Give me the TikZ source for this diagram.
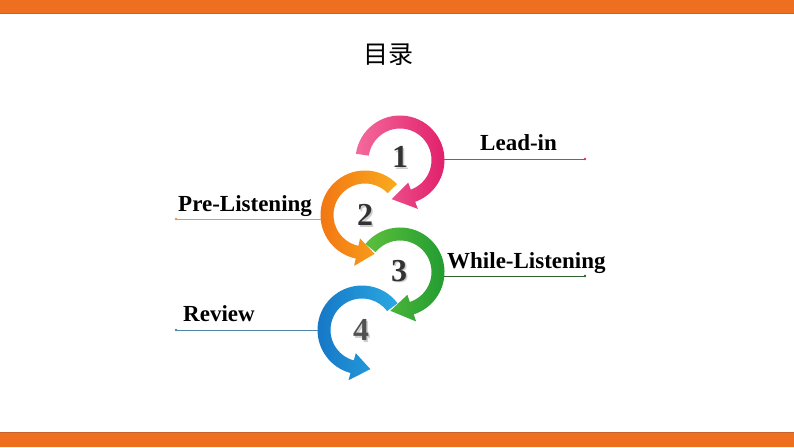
\documentclass[tikz,border=0pt]{standalone}
\usepackage{fontspec}
\setmainfont{Liberation Serif}
\newfontfamily\cjk{Noto Sans CJK SC}
\definecolor{barorange}{HTML}{EE6F1F}
\definecolor{baredge}{HTML}{C9612A}
\definecolor{pinkL}{HTML}{F46A9C}
\definecolor{pinkD}{HTML}{E01E6A}
\definecolor{orangeL}{HTML}{F9AA1E}
\definecolor{orangeD}{HTML}{F27412}
\definecolor{greenL}{HTML}{5CBF3C}
\definecolor{greenD}{HTML}{1E9A30}
\definecolor{blueL}{HTML}{2AA8E2}
\definecolor{blueD}{HTML}{1574C4}
\definecolor{pinkline}{HTML}{D8306E}
\definecolor{orangeline}{HTML}{F0963A}
\definecolor{greenline}{HTML}{2F5E2F}
\definecolor{blueline}{HTML}{4C86A8}
\definecolor{numgray}{HTML}{333333}
\newcommand\cyclearrow[7]{%
  \begin{scope}[shift={(#1,#2)}]
    \shade[left color=#6, right color=#7]
      (#3:44.5) arc[start angle=#3, end angle=#4, radius=44.5]
      -- (#4:52) -- (#5:40) -- (#4:24) -- (#4:31.5)
      arc[start angle=#4, end angle=#3, radius=31.5] -- cycle;
  \end{scope}}
\tikzset{
  numlabel/.style={font=\fontsize{32}{36}\bfseries\selectfont, text=numgray, inner sep=0pt},
  numshadow/.style={font=\fontsize{32}{36}\bfseries\selectfont, text=black!20, inner sep=0pt},
  steplabel/.style={font=\fontsize{23}{27}\bfseries\selectfont, text=black, anchor=base west, inner sep=0pt},
  leader/.style={line width=0.9pt},
  enddot/.style={radius=1.3}
}
\begin{document}
\begin{tikzpicture}[x=1pt,y=1pt]
\useasboundingbox (0,0) rectangle (794,447);
\fill[white] (0,0) rectangle (794,447);
% bars
\fill[barorange] (0,433) rectangle (794,447);
\draw[baredge, line width=0.8pt] (0,433.4) -- (794,433.4);
\fill[barorange] (0,0) rectangle (794,15);
\draw[baredge, line width=0.8pt] (0,14.6) -- (794,14.6);
% title
\node (title) at (388,392) {\cjk\fontsize{25}{30}\selectfont 目录};
% arrows
\cyclearrow{400}{287}{172}{-70}{-102}{pinkL}{pinkD}
\cyclearrow{365}{232}{44}{258}{284}{orangeD}{orangeL}
\cyclearrow{400}{175}{141}{-72}{-104}{greenL}{greenD}
\cyclearrow{362}{117}{37}{255}{282}{blueD}{blueL}
% numbers
\node[numshadow] at (401.5,288.5) {1};
\node[numlabel] (n1) at (400,290) {1};
\node[numshadow] at (366.5,230.5) {2};
\node[numlabel] (n2) at (365,232) {2};
\node[numshadow] at (400.5,174.5) {3};
\node[numlabel] (n3) at (399,176) {3};
\node[numshadow] at (362.5,115.5) {4};
\node[numlabel, text=numgray!85] (n4) at (361,117) {4};
% labels
\node[steplabel] (l1) at (480,296) {Lead-in};
\node[steplabel] (l2) at (178,235) {Pre-Listening};
\node[steplabel] (l3) at (447,178) {While-Listening};
\node[steplabel] (l4) at (183,125) {Review};
% leader lines
\coordinate (a1) at (444,288); \coordinate (e1) at (585,288);
\coordinate (a2) at (321,228); \coordinate (e2) at (176,228);
\coordinate (a3) at (444,171); \coordinate (e3) at (585,171);
\coordinate (a4) at (318,117); \coordinate (e4) at (176,117);
\draw[leader, pinkline] (a1) -- (e1); \fill[pinkline] (e1) circle[enddot];
\draw[leader, orangeline] (a2) -- (e2); \fill[orangeline] (e2) circle[enddot];
\draw[leader, greenline] (a3) -- (e3); \fill[greenline] (e3) circle[enddot];
\draw[leader, blueline] (a4) -- (e4); \fill[blueline] (e4) circle[enddot];
\end{tikzpicture}
\end{document}
